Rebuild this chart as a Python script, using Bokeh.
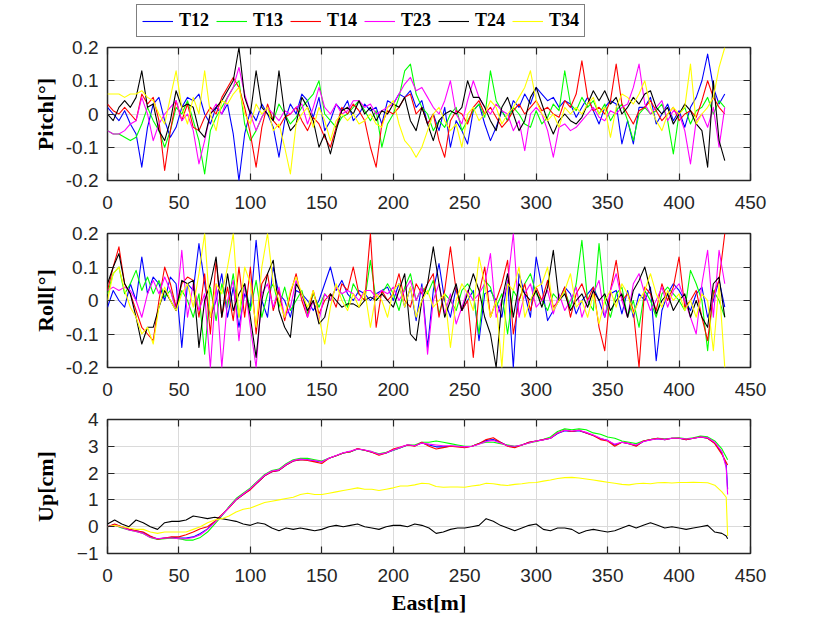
from bokeh.plotting import figure
from bokeh.models import (Range1d, FixedTicker, LinearAxis, Legend, LegendItem,
                          NumeralTickFormatter)
from bokeh.layouts import column
from bokeh.embed import file_html
from bokeh.resources import INLINE

series_names = ["T12", "T13", "T14", "T23", "T24", "T34"]
series_colors = ["#0000ff", "#00ff00", "#ff0000", "#ff00ff", "#000000", "#ffff00"]

x_ticks = [0, 50, 100, 150, 200, 250, 300, 350, 400, 450]
angle_ticks = [-0.2, -0.1, 0, 0.1, 0.2]
up_ticks = [-1, 0, 1, 2, 3, 4]

# East positions [m] of the attitude samples (every 4 m)
east_att = list(range(0, 433, 4))

pitch_T12 = [0.02, 0.00, -0.02, 0.01, -0.03, -0.06, -0.16, -0.04, 0.03, 0.05,
             -0.02, -0.07, -0.04, 0.02, 0.05, 0.04, 0.06, 0.00, -0.03, 0.02,
             0.00, 0.03, -0.06, -0.20, -0.06, 0.01, -0.02, 0.03, 0.00, -0.04,
             -0.13, -0.02, 0.03, 0.00, 0.06, 0.04, -0.01, 0.05, -0.05, -0.02,
             0.03, 0.01, 0.04, -0.02, 0.00, 0.03, 0.01, 0.02, -0.03, 0.04,
             0.03, 0.06, 0.05, 0.07, 0.02, 0.04, -0.03, 0.00, -0.05, 0.02,
             -0.10, -0.02, -0.05, -0.09, 0.01, 0.03, -0.03, -0.08, -0.04, 0.01,
             -0.02, 0.04, 0.02, 0.06, 0.03, 0.08, 0.06, 0.04, 0.05, 0.02,
             0.04, 0.03, -0.01, 0.02, 0.05, 0.01, -0.03, 0.02, 0.04, 0.03,
             -0.09, -0.02, -0.09, 0.02, 0.02, 0.05, -0.03, 0.00, 0.03, -0.02,
             0.01, -0.04, 0.02, 0.05, 0.10, 0.18, 0.08, 0.03, 0.06]
pitch_T13 = [-0.05, -0.06, -0.06, -0.07, -0.08, -0.07, -0.03, 0.02, -0.02, -0.05,
             -0.10, -0.05, 0.02, 0.00, 0.04, -0.02, -0.08, -0.18, -0.05, -0.01,
             0.02, 0.05, 0.08, 0.10, -0.03, -0.08, -0.05, -0.01, 0.02, -0.02,
             0.03, 0.00, -0.03, -0.01, 0.02, 0.04, 0.06, 0.10, 0.00, -0.02,
             -0.04, -0.01, 0.00, 0.02, 0.04, 0.01, -0.02, 0.01, -0.10, -0.03,
             0.00, 0.05, 0.13, 0.15, 0.06, 0.02, 0.00, -0.05, -0.02, -0.04,
             0.00, 0.02, -0.05, -0.02, 0.01, 0.03, -0.01, 0.13, 0.04, 0.01,
             -0.02, 0.02, 0.00, -0.03, -0.04, 0.01, -0.03, -0.01, 0.03, 0.01,
             0.13, 0.03, 0.01, 0.05, 0.02, 0.04, 0.00, 0.03, -0.02, 0.01,
             0.03, -0.02, -0.08, 0.00, 0.02, 0.00, 0.01, 0.03, -0.02, -0.12,
             0.00, 0.02, -0.03, 0.01, 0.02, 0.05, 0.00, 0.04, 0.02]
pitch_T14 = [0.03, 0.01, 0.00, 0.02, 0.00, -0.02, 0.06, 0.03, 0.05, -0.02,
             -0.17, -0.05, 0.04, -0.02, 0.03, -0.04, -0.05, -0.01, 0.02, 0.00,
             0.05, 0.08, 0.11, 0.08, 0.02, -0.06, -0.16, -0.04, 0.03, -0.02,
             -0.04, -0.01, 0.00, 0.02, -0.02, -0.05, -0.01, -0.03, -0.07, -0.10,
             -0.04, 0.02, 0.00, 0.03, 0.01, -0.02, -0.10, -0.16, -0.03, 0.01,
             0.00, 0.02, 0.05, 0.06, 0.00, 0.02, -0.03, 0.00, -0.08, -0.13,
             -0.02, 0.01, 0.00, -0.03, 0.02, 0.04, 0.00, 0.02, -0.01, -0.04,
             -0.02, 0.01, 0.03, 0.00, 0.02, 0.04, 0.01, 0.02, 0.00, -0.01,
             0.04, 0.02, 0.06, 0.16, 0.05, 0.01, 0.02, 0.00, 0.04, 0.15,
             0.03, 0.00, -0.03, 0.01, 0.02, 0.04, 0.01, -0.02, 0.00, 0.02,
             -0.02, 0.00, 0.01, -0.01, 0.04, 0.10, 0.05, 0.02, 0.00]
pitch_T23 = [-0.05, -0.06, -0.06, -0.05, -0.03, -0.02, 0.05, 0.00, -0.08, -0.03,
             0.00, 0.02, 0.04, -0.02, 0.00, -0.05, -0.15, -0.08, 0.00, 0.03,
             0.00, 0.05, 0.08, 0.14, 0.06, 0.00, -0.05, -0.01, 0.02, 0.00,
             -0.02, 0.01, 0.00, 0.02, 0.03, -0.03, 0.02, 0.08, 0.02, 0.00,
             0.03, 0.00, 0.01, 0.04, 0.04, 0.02, 0.03, 0.00, 0.01, 0.02,
             0.03, 0.06, 0.09, 0.11, 0.07, 0.08, 0.05, 0.02, 0.00, 0.04,
             0.10, 0.00, -0.03, 0.04, 0.10, 0.05, 0.02, 0.00, 0.03, 0.01,
             0.00, -0.05, -0.02, -0.11, 0.00, 0.02, 0.00, -0.05, -0.13, -0.04,
             -0.03, -0.05, -0.04, -0.02, 0.00, 0.02, -0.01, -0.02, 0.01, 0.00,
             0.02, 0.03, 0.08, 0.15, 0.03, 0.00, 0.02, 0.04, -0.02, 0.01,
             0.00, -0.05, -0.15, -0.02, 0.00, -0.04, 0.02, -0.10, 0.02]
pitch_T24 = [0.00, -0.02, 0.02, 0.04, 0.02, 0.05, 0.13, 0.02, 0.03, -0.05,
             -0.08, -0.02, 0.07, 0.02, 0.03, 0.02, -0.05, -0.07, 0.00, 0.02,
             0.04, 0.07, 0.10, 0.20, 0.05, 0.00, 0.13, 0.02, 0.00, -0.02,
             0.13, 0.00, -0.05, -0.03, 0.05, 0.02, -0.02, -0.10, -0.06, -0.12,
             -0.05, 0.01, 0.02, 0.00, 0.04, 0.00, 0.02, -0.02, 0.01, 0.00,
             0.03, 0.02, 0.05, -0.02, -0.05, 0.02, -0.03, -0.08, -0.02, 0.00,
             0.01, 0.00, 0.02, 0.10, 0.05, 0.05, 0.02, -0.02, -0.05, 0.02,
             0.05, 0.00, -0.05, -0.02, 0.05, 0.08, 0.03, -0.02, -0.06, -0.02,
             0.00, -0.02, -0.03, -0.01, 0.03, 0.07, 0.04, 0.07, 0.03, 0.05,
             0.00, 0.02, 0.05, 0.03, 0.06, 0.07, 0.02, 0.00, 0.02, -0.03,
             0.00, 0.03, 0.01, -0.03, -0.05, -0.16, 0.10, -0.08, -0.14]
pitch_T34 = [0.06, 0.06, 0.06, 0.05, 0.06, 0.06, 0.07, 0.05, 0.04, 0.00,
             -0.03, 0.05, 0.13, 0.02, -0.03, 0.05, 0.00, 0.13, 0.00, -0.05,
             0.04, 0.03, 0.06, 0.08, 0.00, -0.03, 0.03, 0.00, 0.02, -0.05,
             -0.03, -0.10, -0.18, -0.03, 0.00, 0.02, -0.04, 0.02, -0.02, -0.08,
             -0.02, 0.00, -0.02, 0.00, -0.03, -0.02, 0.00, -0.03, -0.04, 0.02,
             0.04, -0.03, -0.08, -0.10, -0.13, -0.10, -0.05, 0.00, 0.02, -0.02,
             -0.05, -0.03, -0.10, 0.00, 0.02, -0.02, 0.00, 0.04, 0.02, -0.03,
             0.00, 0.02, 0.05, 0.08, 0.13, 0.04, 0.00, -0.02, 0.00, -0.04,
             0.02, 0.00, 0.02, 0.00, 0.03, 0.05, 0.00, 0.02, -0.07, 0.02,
             0.06, 0.05, 0.03, 0.06, 0.10, 0.02, -0.02, -0.05, 0.00, 0.02,
             0.00, 0.02, 0.15, -0.03, 0.00, 0.02, 0.05, 0.14, 0.20]

roll_T12 = [-0.02, 0.03, 0.00, -0.02, 0.05, 0.00, 0.13, 0.02, 0.07, 0.05,
            0.00, 0.07, 0.05, -0.14, 0.05, 0.03, 0.17, 0.05, -0.05, 0.00,
            0.08, -0.05, 0.04, -0.08, 0.02, -0.02, 0.18, 0.00, -0.05, 0.10,
            0.02, 0.00, -0.05, 0.03, 0.02, 0.00, -0.03, 0.00, 0.05, 0.10,
            0.03, 0.06, 0.02, 0.00, 0.03, 0.02, 0.00, 0.02, 0.03, 0.04,
            0.00, 0.05, -0.02, 0.04, -0.06, 0.05, -0.14, 0.03, 0.11, 0.00,
            -0.05, 0.04, -0.03, 0.00, 0.03, -0.12, 0.02, 0.03, 0.00, -0.05,
            0.06, -0.20, 0.08, 0.02, -0.05, 0.13, 0.04, -0.06, -0.03, 0.00,
            0.04, 0.02, -0.04, 0.00, 0.02, 0.04, 0.00, -0.05, 0.02, 0.03,
            -0.04, 0.03, -0.05, 0.02, 0.00, 0.04, -0.18, -0.03, 0.02, 0.05,
            0.03, 0.00, -0.03, 0.02, 0.04, -0.05, 0.00, 0.06, -0.02]
roll_T13 = [0.02, 0.08, 0.10, 0.02, 0.05, 0.09, 0.03, 0.07, 0.02, 0.06,
            0.01, 0.03, -0.02, 0.03, 0.00, -0.05, 0.02, -0.16, 0.04, -0.06,
            0.05, -0.02, 0.08, -0.05, 0.05, -0.03, 0.06, -0.05, 0.02, 0.05,
            -0.02, 0.04, -0.03, 0.00, 0.03, -0.04, 0.02, -0.02, 0.02, 0.00,
            0.04, 0.02, -0.02, 0.05, 0.02, 0.00, 0.12, 0.00, 0.02, 0.05,
            0.02, -0.03, 0.04, 0.08, 0.00, 0.04, 0.02, 0.06, -0.04, 0.02,
            0.00, -0.03, 0.03, 0.05, 0.02, -0.10, 0.06, 0.04, -0.02, 0.02,
            -0.10, 0.03, 0.00, 0.05, 0.08, 0.02, 0.00, -0.03, 0.02, 0.00,
            0.03, -0.02, 0.05, 0.18, 0.00, -0.03, 0.17, 0.00, -0.05, 0.02,
            0.04, -0.05, 0.00, -0.08, 0.03, 0.00, -0.05, 0.02, 0.04, 0.02,
            0.00, -0.03, 0.09, 0.05, 0.00, -0.15, 0.03, 0.00, -0.05]
roll_T14 = [0.03, 0.10, 0.16, 0.05, 0.02, -0.03, -0.08, -0.10, -0.12, 0.00,
            0.10, 0.05, -0.02, 0.05, 0.07, 0.06, -0.05, 0.08, -0.10, 0.12,
            -0.05, 0.04, -0.06, 0.10, -0.05, 0.10, -0.10, 0.05, 0.08, -0.03,
            0.03, -0.06, 0.02, 0.08, 0.00, -0.05, 0.03, -0.04, 0.00, 0.02,
            -0.02, 0.05, 0.03, 0.10, 0.02, 0.00, 0.20, -0.08, 0.03, 0.00,
            0.02, 0.08, 0.00, -0.02, 0.05, 0.02, 0.05, 0.08, -0.05, 0.03,
            0.16, 0.03, -0.03, 0.00, -0.17, 0.02, 0.10, -0.05, 0.00, 0.05,
            0.12, -0.10, 0.00, 0.05, -0.03, 0.04, 0.00, 0.06, -0.02, 0.00,
            0.04, -0.05, 0.02, 0.05, 0.00, 0.04, -0.08, -0.15, 0.03, 0.12,
            0.00, 0.02, -0.03, -0.20, 0.04, 0.02, -0.03, 0.05, 0.00, 0.04,
            0.13, -0.02, 0.00, 0.03, -0.05, -0.12, 0.02, 0.06, 0.20]
roll_T23 = [0.03, 0.04, 0.03, 0.04, 0.03, 0.00, -0.05, 0.02, 0.06, 0.02,
            0.07, 0.03, -0.03, 0.15, -0.05, 0.05, -0.03, 0.02, -0.20, 0.05,
            -0.20, 0.00, 0.06, -0.12, 0.05, -0.08, -0.20, 0.02, 0.05, -0.02,
            0.04, -0.05, -0.02, 0.06, 0.02, -0.05, 0.00, -0.06, 0.02, 0.00,
            0.04, 0.02, 0.03, 0.02, 0.00, 0.03, 0.03, 0.01, 0.03, 0.02,
            0.04, 0.00, 0.03, 0.06, 0.00, 0.04, -0.16, 0.00, 0.05, -0.04,
            0.02, -0.07, -0.02, 0.03, 0.00, 0.02, 0.05, 0.14, -0.05, 0.00,
            0.05, 0.20, -0.05, 0.02, 0.05, -0.02, 0.00, 0.03, -0.04, 0.02,
            -0.03, 0.00, 0.04, -0.05, 0.00, 0.02, 0.06, -0.05, 0.03, 0.08,
            0.00, -0.05, 0.05, 0.08, 0.02, -0.03, 0.00, 0.04, -0.02, 0.03,
            0.05, 0.00, -0.05, -0.10, 0.05, 0.15, -0.05, 0.15, 0.05]
roll_T24 = [0.05, 0.10, 0.14, 0.05, 0.02, -0.05, -0.13, -0.08, -0.08, -0.02,
            0.03, 0.00, -0.03, 0.06, 0.05, 0.06, -0.14, 0.00, 0.05, 0.13,
            -0.05, 0.08, -0.03, 0.02, 0.05, -0.05, -0.17, 0.00, 0.08, 0.12,
            -0.03, -0.08, -0.11, 0.05, 0.02, -0.03, 0.00, -0.07, -0.05, 0.02,
            0.00, -0.02, -0.01, -0.01, -0.02, 0.00, 0.01, 0.00, 0.02, 0.00,
            -0.02, 0.03, 0.08, -0.10, -0.12, 0.00, 0.05, 0.16, 0.05, -0.05,
            0.00, 0.05, -0.03, 0.02, 0.08, 0.03, -0.05, -0.10, -0.20, 0.00,
            0.08, -0.05, 0.05, 0.02, 0.00, 0.03, -0.02, 0.04, 0.15, 0.00,
            0.02, -0.03, 0.00, 0.02, -0.02, 0.03, 0.00, 0.02, -0.03, 0.00,
            0.02, -0.05, 0.03, 0.06, 0.10, 0.03, -0.04, 0.00, 0.02, -0.03,
            0.00, 0.02, -0.05, 0.00, -0.05, -0.08, 0.05, 0.07, -0.05]
roll_T34 = [0.00, 0.08, 0.10, 0.03, -0.02, -0.05, -0.10, -0.08, -0.13, -0.02,
            0.04, 0.00, -0.03, 0.02, 0.05, -0.02, 0.08, 0.20, -0.05, 0.05,
            0.02, 0.10, 0.20, -0.05, 0.10, 0.05, -0.08, 0.10, 0.20, 0.05,
            0.00, -0.05, 0.03, 0.07, 0.02, -0.02, 0.03, -0.05, -0.13, -0.02,
            0.05, 0.00, -0.03, 0.02, -0.02, 0.03, -0.08, 0.02, 0.00, -0.05,
            0.03, 0.05, -0.02, 0.04, -0.05, 0.00, 0.03, -0.02, 0.00, 0.02,
            -0.14, 0.00, 0.05, 0.02, -0.03, 0.13, 0.05, -0.05, 0.00, -0.20,
            0.05, 0.03, 0.10, -0.05, 0.00, 0.04, 0.05, 0.10, -0.03, 0.00,
            0.03, 0.08, -0.02, 0.00, -0.05, 0.02, -0.07, 0.00, 0.03, -0.02,
            0.05, 0.02, -0.04, 0.00, 0.03, 0.08, 0.02, -0.02, 0.03, 0.00,
            0.02, -0.03, 0.00, -0.05, 0.02, 0.00, -0.15, 0.05, -0.20]

# East positions [m] of the Up samples
east_up = [0, 5, 10, 15, 20, 25, 30, 35, 40, 45, 50, 55, 60, 65, 70, 75, 80, 85, 90, 95,
           100, 105, 110, 115, 120, 125, 130, 135, 140, 145, 150, 155, 160, 165, 170, 175,
           180, 185, 190, 195, 200, 205, 210, 215, 220, 225, 230, 235, 240, 245, 250, 255,
           260, 265, 270, 275, 280, 285, 290, 295, 300, 305, 310, 315, 320, 325, 330, 335,
           340, 345, 350, 355, 360, 365, 370, 375, 380, 385, 390, 395, 400, 405, 410, 415,
           420, 425, 430, 433, 434]

up_T12 = [0.0, 0.08, 0.0, -0.1, -0.15, -0.22, -0.38, -0.45, -0.42, -0.4, -0.42, -0.42, -0.38, -0.25, -0.08, 0.18,
          0.42, 0.72, 1.0, 1.2, 1.4, 1.65, 1.9, 2.05, 2.1, 2.3, 2.45, 2.5, 2.5, 2.45, 2.42, 2.55,
          2.65, 2.75, 2.8, 2.9, 2.85, 2.78, 2.7, 2.75, 2.85, 2.95, 3.05, 3.02, 3.12, 3.05, 2.98, 2.98,
          3.0, 3.0, 2.97, 3.0, 3.1, 3.22, 3.25, 3.15, 3.02, 2.98, 3.05, 3.15, 3.2, 3.25, 3.3, 3.48,
          3.58, 3.55, 3.58, 3.5, 3.4, 3.28, 3.22, 3.05, 3.15, 3.1, 3.02, 3.18, 3.25, 3.28, 3.25, 3.3,
          3.3, 3.25, 3.3, 3.35, 3.3, 3.12, 2.75, 2.3, 1.4]
up_T13 = [0.0, 0.05, -0.05, -0.12, -0.18, -0.25, -0.4, -0.48, -0.45, -0.42, -0.45, -0.5, -0.5, -0.4, -0.2, 0.1,
          0.4, 0.75, 1.05, 1.25, 1.45, 1.7, 1.95, 2.1, 2.15, 2.35, 2.5, 2.55, 2.55, 2.5, 2.45, 2.55,
          2.65, 2.75, 2.8, 2.9, 2.85, 2.8, 2.72, 2.78, 2.85, 2.95, 3.05, 3.05, 3.15, 3.15, 3.2, 3.15,
          3.1, 3.05, 3.0, 3.0, 3.1, 3.15, 3.15, 3.1, 3.05, 3.0, 3.05, 3.12, 3.18, 3.25, 3.35, 3.55,
          3.65, 3.62, 3.65, 3.62, 3.5, 3.45, 3.35, 3.3, 3.2, 3.15, 3.1, 3.2, 3.25, 3.3, 3.28, 3.3,
          3.32, 3.28, 3.32, 3.38, 3.35, 3.2, 2.9, 2.6, 2.5]
up_T14 = [0.0, 0.1, 0.0, -0.1, -0.15, -0.2, -0.35, -0.47, -0.42, -0.38, -0.38, -0.3, -0.2, -0.08, 0.0, 0.2,
          0.45, 0.7, 1.0, 1.2, 1.38, 1.65, 1.9, 2.05, 2.1, 2.3, 2.45, 2.5, 2.47, 2.42, 2.36, 2.55,
          2.65, 2.75, 2.8, 2.92, 2.85, 2.78, 2.67, 2.75, 2.9, 2.97, 3.05, 3.0, 3.15, 3.0, 2.9, 2.95,
          3.0, 2.98, 2.95, 3.0, 3.1, 3.25, 3.32, 3.15, 3.0, 2.95, 3.05, 3.15, 3.2, 3.25, 3.3, 3.5,
          3.6, 3.55, 3.6, 3.5, 3.4, 3.25, 3.2, 3.0, 3.15, 3.1, 3.0, 3.2, 3.25, 3.3, 3.25, 3.3,
          3.3, 3.25, 3.3, 3.35, 3.3, 3.1, 2.7, 2.4, 2.3]
up_T23 = [0.0, 0.05, -0.02, -0.12, -0.18, -0.25, -0.4, -0.45, -0.42, -0.42, -0.45, -0.45, -0.4, -0.3, -0.1, 0.15,
          0.42, 0.72, 1.02, 1.22, 1.42, 1.68, 1.92, 2.08, 2.12, 2.32, 2.47, 2.52, 2.5, 2.47, 2.42, 2.55,
          2.66, 2.76, 2.82, 2.9, 2.86, 2.8, 2.7, 2.76, 2.86, 2.96, 3.06, 3.02, 3.12, 3.08, 3.05, 3.02,
          3.02, 3.0, 2.98, 3.0, 3.08, 3.18, 3.22, 3.12, 3.02, 3.0, 3.05, 3.12, 3.2, 3.24, 3.3, 3.5,
          3.6, 3.57, 3.6, 3.52, 3.42, 3.3, 3.22, 3.08, 3.15, 3.1, 3.05, 3.18, 3.24, 3.28, 3.26, 3.3,
          3.3, 3.27, 3.3, 3.35, 3.32, 3.15, 2.8, 2.2, 1.2]
up_T24 = [0.1, 0.25, 0.1, 0.0, 0.25, 0.15, 0.0, -0.1, 0.15, 0.2, 0.2, 0.25, 0.4, 0.35, 0.3, 0.35,
          0.3, 0.25, 0.2, 0.1, 0.05, 0.15, 0.1, -0.05, -0.15, -0.05, -0.1, -0.05, -0.1, -0.15, -0.1, 0.0,
          0.05, 0.0, 0.05, 0.1, 0.0, -0.05, -0.1, 0.0, 0.05, 0.05, 0.0, 0.1, 0.05, -0.05, -0.25, -0.2,
          -0.1, -0.05, -0.05, 0.0, 0.05, 0.3, 0.2, 0.05, -0.05, -0.15, -0.05, 0.05, 0.1, -0.1, -0.15, -0.05,
          -0.05, -0.1, -0.25, -0.15, -0.1, -0.15, -0.2, -0.15, -0.05, 0.05, -0.05, 0.05, 0.15, 0.05, -0.05, 0.0,
          -0.05, -0.1, -0.05, 0.0, 0.05, -0.2, -0.25, -0.35, -0.45]
up_T34 = [0.0, 0.05, 0.0, -0.05, -0.1, -0.1, -0.2, -0.25, -0.2, -0.2, -0.2, -0.2, -0.1, 0.0, 0.15, 0.25,
          0.3, 0.4, 0.55, 0.65, 0.7, 0.8, 0.9, 0.95, 1.0, 1.05, 1.1, 1.2, 1.25, 1.2, 1.2, 1.25,
          1.3, 1.35, 1.4, 1.45, 1.4, 1.4, 1.35, 1.4, 1.45, 1.52, 1.52, 1.56, 1.62, 1.6, 1.5, 1.47,
          1.48, 1.48, 1.47, 1.52, 1.55, 1.62, 1.6, 1.56, 1.54, 1.58, 1.6, 1.64, 1.65, 1.7, 1.74, 1.8,
          1.83, 1.84, 1.82, 1.78, 1.74, 1.7, 1.66, 1.62, 1.58, 1.56, 1.6, 1.62, 1.6, 1.64, 1.65, 1.63,
          1.65, 1.65, 1.66, 1.65, 1.64, 1.55, 1.3, 1.1, -0.35]

pitch = [pitch_T12, pitch_T13, pitch_T14, pitch_T23, pitch_T24, pitch_T34]
roll = [roll_T12, roll_T13, roll_T14, roll_T23, roll_T24, roll_T34]
up = [up_T12, up_T13, up_T14, up_T23, up_T24, up_T34]

INK = "#262626"
TICK_FONT = "Liberation Sans"
LABEL_FONT = "Liberation Serif"


def style_axis(ax, ticks, show_labels=True):
    ax.ticker = FixedTicker(ticks=ticks)
    ax.major_tick_in = 7
    ax.major_tick_out = 0
    ax.minor_tick_line_color = None
    ax.major_tick_line_color = INK
    ax.major_tick_line_width = 1.2
    ax.axis_line_color = None
    ax.major_label_text_font = TICK_FONT
    ax.major_label_text_color = INK
    if show_labels:
        ax.major_label_text_font_size = "19px"
    else:
        ax.major_label_text_font_size = "0px"
        ax.major_label_standoff = 0


def make_panel(height, top, bottom, yrange, yticks, ylabel, ylabel_standoff,
               xs, data, numeral=False, xlabel=None):
    p = figure(width=820, height=height, x_range=Range1d(0, 450),
               y_range=Range1d(*yrange), output_backend="svg",
               toolbar_location=None, min_border_left=107, min_border_right=70,
               min_border_top=top, min_border_bottom=bottom)
    p.background_fill_color = "white"
    p.border_fill_color = "white"
    p.outline_line_color = INK
    p.outline_line_width = 1.5
    p.grid.grid_line_color = "#dadada"
    p.grid.grid_line_width = 1
    p.xgrid.ticker = FixedTicker(ticks=x_ticks)
    p.ygrid.ticker = FixedTicker(ticks=yticks)

    bx = p.below[0]
    style_axis(bx, x_ticks)
    bx.major_label_standoff = 15
    ly = p.left[0]
    style_axis(ly, yticks)
    ly.major_label_standoff = 9
    if numeral:
        ly.formatter = NumeralTickFormatter(format="0.[0]")
    ly.axis_label = ylabel
    ly.axis_label_text_font = LABEL_FONT
    ly.axis_label_text_font_style = "bold"
    ly.axis_label_text_font_size = "22px"
    ly.axis_label_text_color = "#000000"
    ly.axis_label_standoff = ylabel_standoff
    if xlabel:
        bx.axis_label = xlabel
        bx.axis_label_text_font = LABEL_FONT
        bx.axis_label_text_font_style = "bold"
        bx.axis_label_text_font_size = "22px"
        bx.axis_label_text_color = "#000000"
        bx.axis_label_standoff = 5

    top_ax = LinearAxis()
    style_axis(top_ax, x_ticks, show_labels=False)
    p.add_layout(top_ax, "above")
    right_ax = LinearAxis()
    style_axis(right_ax, yticks, show_labels=False)
    p.add_layout(right_ax, "right")

    renderers = []
    for name, color, ys in zip(series_names, series_colors, data):
        r = p.line(xs, ys, line_color=color, line_width=1.1, line_join="round")
        renderers.append(r)
    return p, renderers


# legend strip on top; same side borders as the panels so the column keeps them aligned
p0 = figure(width=820, height=38, x_range=Range1d(0, 1), y_range=Range1d(0, 1),
            output_backend="svg", toolbar_location=None,
            x_axis_location=None, y_axis_location=None,
            min_border_left=107, min_border_right=70, min_border_top=0,
            min_border_bottom=0)
p0.grid.visible = False
p0.outline_line_color = None
p0.background_fill_color = "white"
p0.border_fill_color = "white"
nan = float("nan")
leg_renderers = [p0.line(x=[nan], y=[nan], line_color=c, line_width=1.1) for c in series_colors]
legend = Legend(items=[LegendItem(label=n, renderers=[r]) for n, r in zip(series_names, leg_renderers)],
                orientation="horizontal", location=(29, 1))
legend.label_text_font = LABEL_FONT
legend.label_text_font_style = "bold"
legend.label_text_font_size = "18px"
legend.label_text_color = "#000000"
legend.glyph_width = 31
legend.glyph_height = 20
legend.label_standoff = 6
legend.spacing = 7
legend.padding = 5
legend.margin = 0
legend.border_line_color = "#000000"
legend.border_line_width = 1.5
legend.background_fill_color = "white"
legend.background_fill_alpha = 1
p0.add_layout(legend, "center")

p1, r1 = make_panel(175, 9, 33, (-0.2, 0.2), angle_ticks, "Pitch[°]", 5,
                    east_att, pitch, numeral=True)
p2, _ = make_panel(187, 20, 33, (-0.2, 0.2), angle_ticks, "Roll[°]", 5,
                   east_att, roll, numeral=True)
p3, _ = make_panel(218, 19, 65, (-1, 4), up_ticks, "Up[cm]", 16,
                   east_up, up, xlabel="East[m]")

layout = column(p0, p1, p2, p3, spacing=0)
open("out.html", "w").write(file_html(layout, INLINE))
